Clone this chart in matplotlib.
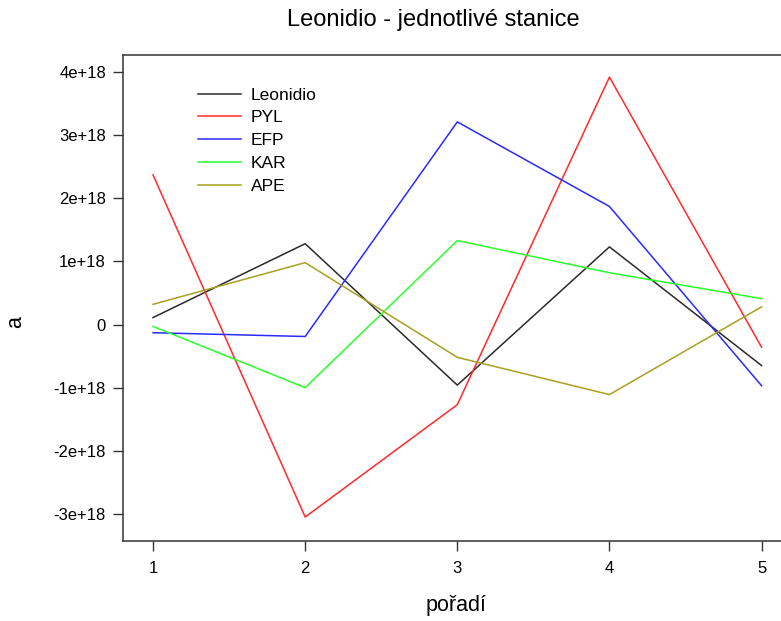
import matplotlib.pyplot as plt

poradi = [1, 2, 3, 4, 5]
leonidio = [0.11e18, 1.28e18, -0.96e18, 1.23e18, -0.65e18]
pyl = [2.37e18, -3.05e18, -1.27e18, 3.92e18, -0.36e18]
efp = [-0.13e18, -0.19e18, 3.21e18, 1.87e18, -0.97e18]
kar = [-0.03e18, -1.0e18, 1.33e18, 0.82e18, 0.41e18]
ape = [0.32e18, 0.98e18, -0.52e18, -1.11e18, 0.28e18]
nazvy = ['Leonidio', 'PYL', 'EFP', 'KAR', 'APE']
barvy = ['#2a2a2a', '#ff2a2a', '#2a2aff', '#2aff2a', '#a8a020']

plt.rcParams['font.family'] = ['Liberation Sans', 'DejaVu Sans']

fig = plt.figure(figsize=(7.81, 6.21), dpi=100)
ax = fig.add_axes([122.6 / 781, 1 - 541 / 621, (792 - 122.6) / 781, (541 - 55) / 621])

for data, nazev, barva in zip([leonidio, pyl, efp, kar, ape], nazvy, barvy):
    ax.plot(poradi, data, color=barva, lw=1.1, label=nazev)

ax.set_xlim(0.8, 5.2)
ax.set_ylim(-3.43e18, 4.27e18)
ax.set_xticks(poradi)
yt = [-3e18, -2e18, -1e18, 0, 1e18, 2e18, 3e18, 4e18]
ax.set_yticks(yt)
ax.set_yticklabels(['-3e+18', '-2e+18', '-1e+18', '0', '1e+18', '2e+18', '3e+18', '4e+18'])
ax.tick_params(axis='both', direction='out', length=7, width=1, color='#333333',
               labelsize=12)
ax.tick_params(axis='x', pad=7.5)
ax.tick_params(axis='y', pad=5)
for s in ax.spines.values():
    s.set_color('#333333')
    s.set_linewidth(1.1)

fig.text(433 / 781, 1 - 20 / 621, 'Leonidio - jednotlivé stanice', ha='center', va='center',
         fontsize=17)
fig.text(456 / 781, 1 - 606 / 621, 'pořadí', ha='center', va='center', fontsize=15.5)
fig.text(16 / 781, 1 - 322 / 621, 'a', ha='center', va='center', fontsize=15.5, rotation=90)

ax.legend(loc='upper left', bbox_to_anchor=(198 / 781, 1 - 87.5 / 621),
          bbox_transform=fig.transFigure, frameon=False, fontsize=12.5,
          borderpad=0, borderaxespad=0, handlelength=2.47, handletextpad=0.57,
          labelspacing=0.44)

fig.savefig('out.png', dpi=100)
